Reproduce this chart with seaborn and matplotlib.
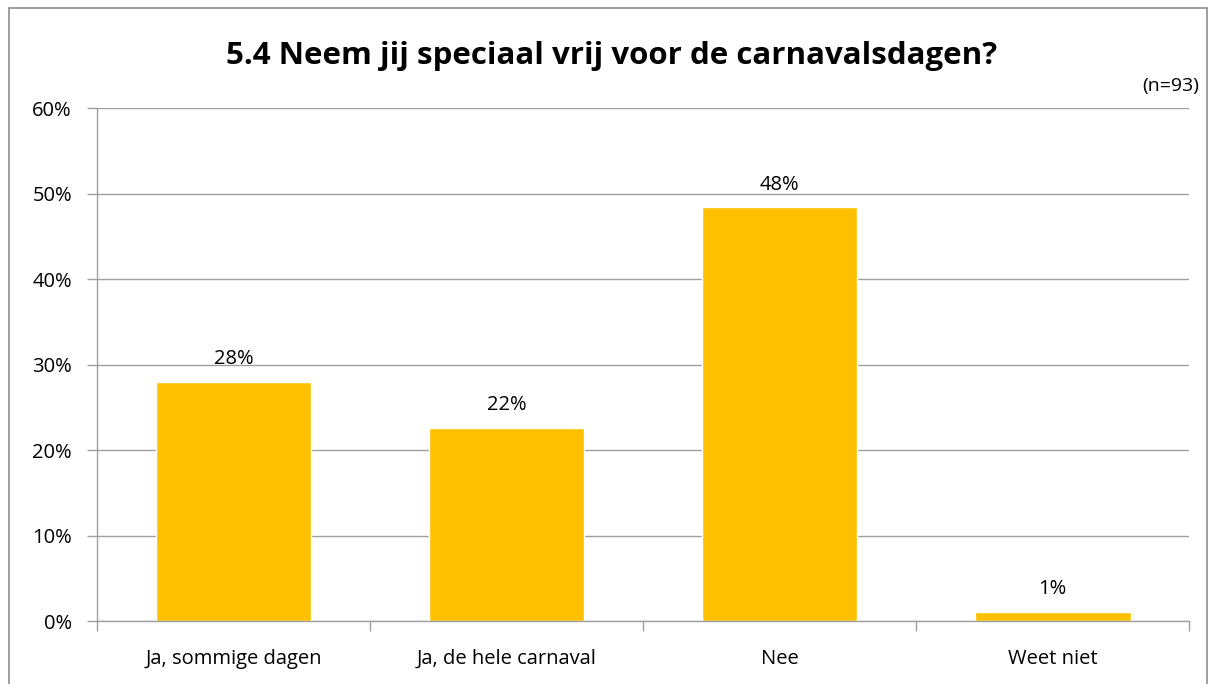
import matplotlib
matplotlib.use("Agg")
import matplotlib.pyplot as plt
import seaborn as sns
import pandas as pd
from matplotlib.patches import Rectangle
from matplotlib.ticker import FixedLocator

# answers to question 5.4, n=93
categories = ["Ja, sommige dagen", "Ja, de hele carnaval", "Nee", "Weet niet"]
counts = [26, 21, 45, 1]
n_total = 93
percent = [c / n_total * 100 for c in counts]
labels = ["28%", "22%", "48%", "1%"]

df = pd.DataFrame({"antwoord": categories, "pct": percent})

sns.set_style("white")
plt.rcParams["font.family"] = ["Open Sans", "DejaVu Sans"]
plt.rcParams["text.color"] = "black"
plt.rcParams["xtick.color"] = "black"
plt.rcParams["ytick.color"] = "black"

fig = plt.figure(figsize=(12.15, 6.84), dpi=100)
ax = fig.add_axes([0.0798, 0.0921, 0.899, 0.7499])

sns.barplot(data=df, x="antwoord", y="pct", color="#FFC000", width=0.57,
            saturation=1, ax=ax)

grey = "#A0A0A0"
ax.set_ylim(0, 60)
ax.set_xlim(-0.5, 3.5)
ax.set_yticks(range(0, 61, 10))
ax.set_yticklabels([f"{v}%" for v in range(0, 61, 10)], fontsize=14.5)
ax.yaxis.grid(True, color=grey, linewidth=1)
ax.set_axisbelow(True)
ax.xaxis.set_minor_locator(FixedLocator([-0.5, 0.5, 1.5, 2.5, 3.5]))
ax.tick_params(axis="x", which="major", bottom=False, length=0, labelsize=14.5,
               labelcolor="black", pad=20)
ax.tick_params(axis="x", which="minor", bottom=True, length=7, color=grey, width=1)
ax.tick_params(axis="y", left=True, length=7, color=grey, width=1, pad=11,
               labelcolor="black")
ax.set_xlabel("")
ax.set_ylabel("")
for s in ["top", "right"]:
    ax.spines[s].set_visible(False)
for s in ["left", "bottom"]:
    ax.spines[s].set_color(grey)
    ax.spines[s].set_linewidth(1)

for i, (p, lab) in enumerate(zip(percent, labels)):
    ax.text(i, p + 1.5, lab, ha="center", va="bottom", fontsize=14.5, color="black")

fig.text(0.503, 0.918, "5.4 Neem jij speciaal vrij voor de carnavalsdagen?",
         ha="center", va="center", fontsize=22.5, fontweight="bold", color="black")
fig.text(0.987, 0.875, "(n=93)", ha="right", va="center", fontsize=14, color="black")

fig.patches.append(Rectangle((0.0075, -0.05), 0.986, 1.038, transform=fig.transFigure,
                             fill=False, edgecolor="#8C8C8C", linewidth=1.2))

fig.savefig("out.png", dpi=100)
